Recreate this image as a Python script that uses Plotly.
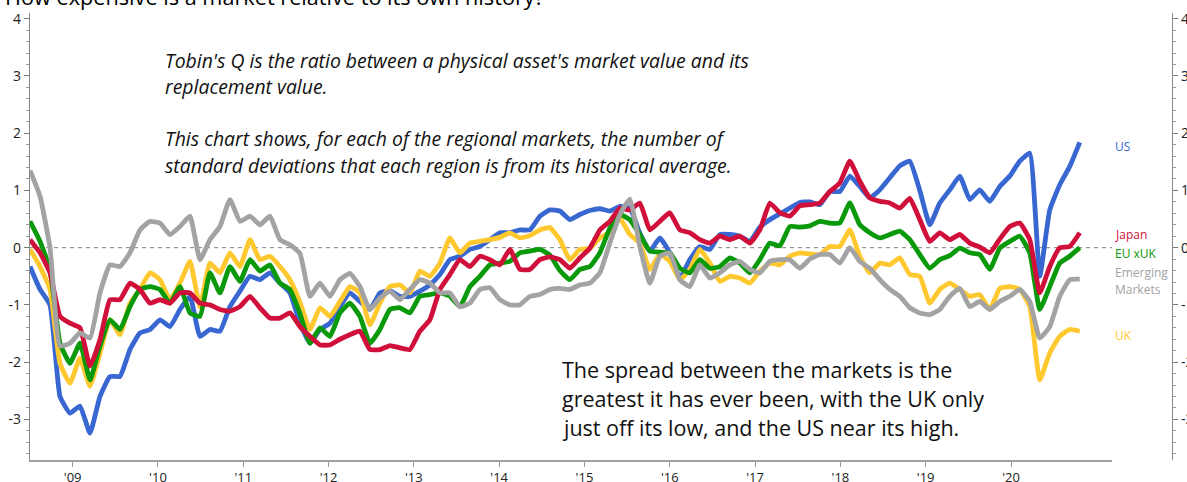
import plotly.graph_objects as go

# regional Tobin's Q, std devs from own history
start_year = 2008.5
step_year = 0.1172

us = [-0.33, -0.73, -1.0, -2.6, -2.89, -2.77, -3.24, -2.6, -2.25, -2.25,
      -1.78, -1.49, -1.43, -1.26, -1.38, -1.08, -0.85, -1.55, -1.43, -1.46,
      -1.03, -0.76, -0.50, -0.56, -0.44, -0.62, -0.79, -1.32, -1.67, -1.43,
      -1.32, -1.03, -0.79, -0.94, -1.08, -0.79, -0.75, -0.85, -0.85, -0.76,
      -0.65, -0.47, -0.21, -0.15, -0.03, 0.02, 0.14, 0.26, 0.26, 0.31,
      0.31, 0.55, 0.66, 0.64, 0.49, 0.58, 0.65, 0.68, 0.64, 0.72,
      0.69, 0.25, -0.06, 0.17, -0.09, -0.53, -0.21, 0.02, -0.03, 0.23,
      0.23, 0.20, 0.11, 0.36, 0.49, 0.59, 0.69, 0.79, 0.80, 0.75,
      0.98, 0.98, 1.25, 1.07, 0.87, 1.01, 1.22, 1.43, 1.51, 1.0,
      0.4, 0.78, 1.01, 1.25, 0.84, 1.01, 0.81, 1.07, 1.25, 1.51,
      1.65, -0.5, 0.66, 1.10, 1.42, 1.84]

japan = [0.14, -0.09, -0.44, -1.2, -1.32, -1.40, -2.07, -1.61, -0.91, -0.91,
         -0.62, -0.73, -0.97, -0.91, -0.97, -0.79, -0.79, -0.97, -1.0, -1.08,
         -1.11, -1.03, -0.85, -1.05, -1.23, -1.23, -1.14, -1.38, -1.55, -1.70,
         -1.70, -1.6, -1.52, -1.46, -1.78, -1.78, -1.71, -1.75, -1.78, -1.46,
         -1.26, -0.73, -0.47, -0.21, -0.33, -0.15, -0.21, -0.30, -0.03, -0.38,
         -0.38, -0.21, -0.16, -0.21, -0.36, -0.18, -0.01, 0.31, 0.46, 0.69,
         0.66, 0.78, 0.31, 0.46, 0.61, 0.31, 0.26, 0.14, 0.08, 0.20,
         0.14, 0.20, 0.08, 0.31, 0.78, 0.61, 0.55, 0.73, 0.75, 0.78,
         0.98, 1.13, 1.51, 1.16, 0.87, 0.81, 0.78, 0.69, 0.86, 0.49,
         0.11, 0.26, 0.14, 0.23, 0.08, 0.01, -0.09, 0.15, 0.37, 0.43,
         0.14, -0.79, -0.33, 0.0, 0.02, 0.26]

eu_xuk = [0.46, 0.11, -0.38, -1.67, -2.02, -1.67, -2.31, -1.72, -1.26, -1.43,
          -1.03, -0.73, -0.68, -0.73, -0.97, -0.68, -1.14, -1.2, -0.44, -0.79,
          -0.33, -0.59, -0.21, -0.41, -0.30, -0.62, -0.73, -1.15, -1.67, -1.40,
          -1.55, -1.14, -0.97, -1.2, -1.67, -1.43, -1.08, -1.05, -1.14, -0.85,
          -0.82, -0.79, -0.85, -1.03, -0.68, -0.50, -0.30, -0.27, -0.24, -0.09,
          -0.06, -0.03, -0.13, -0.40, -0.56, -0.38, -0.33, -0.09, 0.34, 0.58,
          0.49, 0.23, -0.06, -0.08, -0.09, -0.36, -0.44, -0.21, -0.36, -0.33,
          -0.18, -0.27, -0.44, -0.21, 0.08, 0.03, 0.37, 0.36, 0.38, 0.46,
          0.43, 0.43, 0.78, 0.40, 0.26, 0.17, 0.23, 0.29, 0.14, -0.12,
          -0.36, -0.21, -0.14, -0.01, -0.09, -0.12, -0.38, -0.01, 0.11, 0.20,
          -0.09, -1.08, -0.68, -0.27, -0.15, 0.0]

uk = [-0.03, -0.33, -0.73, -2.02, -2.37, -1.93, -2.42, -1.84, -1.26, -1.52,
      -0.97, -0.73, -0.44, -0.56, -0.91, -0.62, -0.24, -1.03, -0.27, -0.44,
      -0.09, -0.33, 0.14, -0.21, -0.15, -0.33, -0.56, -0.95, -1.43, -1.05,
      -1.2, -0.94, -0.68, -0.79, -1.35, -0.97, -0.68, -0.65, -0.79, -0.41,
      -0.50, -0.27, 0.17, -0.09, 0.08, 0.11, 0.14, 0.18, 0.26, 0.17,
      0.21, 0.31, 0.35, 0.14, -0.21, -0.03, -0.01, 0.17, 0.27, 0.51,
      0.23, 0.08, -0.38, -0.12, -0.24, -0.56, -0.38, -0.03, -0.27, -0.59,
      -0.50, -0.53, -0.62, -0.41, -0.27, -0.30, -0.15, -0.09, -0.11, -0.12,
      0.02, 0.02, 0.31, -0.15, -0.44, -0.27, -0.30, -0.18, -0.47, -0.50,
      -0.97, -0.73, -0.62, -0.73, -0.85, -0.82, -1.08, -0.71, -0.68, -0.73,
      -1.03, -2.31, -1.84, -1.55, -1.43, -1.46]

emerging = [1.35, 0.90, 0.0, -1.72, -1.67, -1.49, -1.58, -0.79, -0.30, -0.33,
            -0.09, 0.31, 0.46, 0.43, 0.23, 0.37, 0.55, -0.21, 0.14, 0.37,
            0.84, 0.46, 0.55, 0.40, 0.55, 0.14, 0.05, -0.1, -0.85, -0.62,
            -0.85, -0.56, -0.45, -0.68, -1.08, -0.88, -0.76, -0.91, -0.73, -0.56,
            -0.62, -0.79, -0.79, -1.03, -0.97, -0.73, -0.70, -0.91, -1.0, -1.0,
            -0.85, -0.82, -0.73, -0.71, -0.73, -0.65, -0.62, -0.44, 0.08, 0.58,
            0.85, 0.02, -0.62, -0.15, -0.09, -0.56, -0.68, -0.30, -0.53, -0.44,
            -0.30, -0.24, -0.38, -0.44, -0.24, -0.21, -0.21, -0.36, -0.2, -0.12,
            -0.12, -0.27, 0.0, -0.24, -0.36, -0.56, -0.73, -0.85, -1.05, -1.14,
            -1.17, -1.08, -0.85, -0.71, -1.03, -0.94, -1.08, -0.94, -0.85, -0.73,
            -0.94, -1.58, -1.38, -0.85, -0.56, -0.55]

years = list(range(2009, 2021))
year_labels = ["'" + str(y)[2:] for y in years]
y_ticks = [-3, -2, -1, 0, 1, 2, 3, 4]
y_labels = [str(v) for v in y_ticks]

# draw order: first is at the back
series = [
    ("US", us, "#3967D1"),
    ("UK", uk, "#FFC82F"),
    ("EU xUK", eu_xuk, "#0A990A"),
    ("Japan", japan, "#D0103A"),
    ("Emerging Markets", emerging, "#A3A3A3"),
]

FONT = "Open Sans, sans-serif"
W, H = 1187, 482
L, R, T, B = 30, 15, 13, 22


def px(x, y):
    # pixel position -> paper coordinates
    return (x - L) / (W - L - R), (H - B - y) / (H - T - B)


fig = go.Figure()
x = [start_year + step_year * i for i in range(len(us))]
for name, vals, col in series:
    fig.add_trace(go.Scatter(x=x, y=vals, mode="lines", name=name,
                             line=dict(color=col, width=4.8, shape="spline", smoothing=0.4)))
fig.add_trace(go.Scatter(x=[None], y=[None], yaxis="y2", showlegend=False))

fig.add_shape(type="line", xref="x domain", yref="y", x0=0, x1=1, y0=0, y1=0,
              line=dict(color="#808080", width=1, dash="4px,4px"), layer="below")

notes = []
notes.append(("How expensive is a market relative to its own history?", 3, 13, 21.7, "#000", "bottom"))
for txt, yy in [("Tobin's Q is the ratio between a physical asset's market value and its", 60),
                ("replacement value.", 87),
                ("This chart shows, for each of the regional markets, the number of", 138),
                ("standard deviations that each region is from its historical average.", 165)]:
    notes.append(("<i>" + txt + "</i>", 163, yy, 19.4, "#111", "middle"))
for txt, yy in [("The spread between the markets is the", 369),
                ("greatest it has ever been, with the UK only", 398),
                ("just off its low, and the US near its high.", 427)]:
    notes.append((txt, 560, yy, 21.5, "#111", "middle"))
for txt, yy, col in [("US", 146, "#3967D1"), ("Japan", 235, "#D0103A"), ("EU xUK", 254, "#0A990A"),
                     ("Emerging", 272, "#A3A3A3"), ("Markets", 289, "#A3A3A3"), ("UK", 335, "#FFC82F")]:
    notes.append((txt, 1113, yy, 12, col, "middle"))

for txt, xx, yy, size, col, ya in notes:
    ax, ay = px(xx, yy)
    fig.add_annotation(text=txt, x=ax, y=ay, xref="paper", yref="paper", xanchor="left", yanchor=ya,
                       showarrow=False, font=dict(size=size, color=col, family=FONT))

x_end = 2009 + (1112 - 72.7) / 85.3
yr = [-3.71, 4.1]
fig.update_layout(
    template="none",
    width=W, height=H,
    margin=dict(l=L, r=R, t=T, b=B),
    showlegend=False,
    plot_bgcolor="white", paper_bgcolor="white",
    font=dict(family=FONT, size=14, color="#222"),
    xaxis=dict(domain=[0, (1112 - L) / (W - L - R)], range=[start_year, x_end],
               tickvals=years, ticktext=year_labels, ticks="outside", ticklen=5,
               tickcolor="#999", showline=True, linecolor="#A0A0A0", linewidth=1.5,
               showgrid=False, zeroline=False, tickfont=dict(size=13), automargin=False),
    yaxis=dict(range=yr, tickvals=y_ticks, ticktext=y_labels, ticks="outside", ticklen=5,
               tickcolor="#777", showline=True, linecolor="#888", linewidth=1.2,
               showgrid=False, zeroline=False, automargin=False,
               minor=dict(ticks="outside", dtick=0.2, ticklen=3, tickcolor="#999")),
    yaxis2=dict(range=yr, overlaying="y", anchor="free", position=1, side="right",
                tickvals=y_ticks, ticktext=y_labels, ticks="outside", ticklen=5,
                tickcolor="#777", showline=True, linecolor="#888", linewidth=1.2,
                showgrid=False, zeroline=False, automargin=False,
                minor=dict(ticks="outside", dtick=0.2, ticklen=3, tickcolor="#999")),
)

# page body has a default margin; drop it so the chart sits at the window corner
fig.write_html("out.html", config={"displayModeBar": False},
               post_script="document.body.style.margin='0';")
